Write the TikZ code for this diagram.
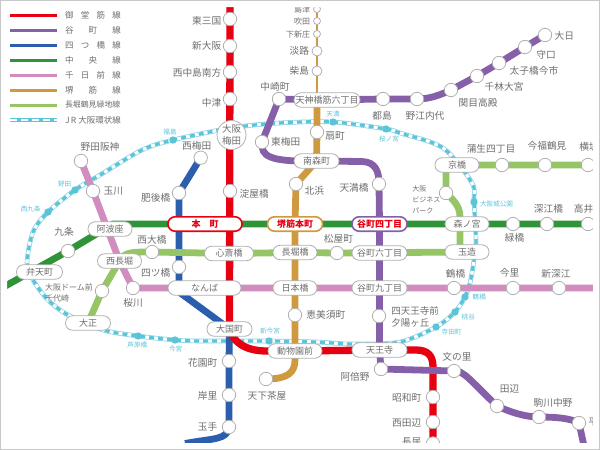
\documentclass[tikz,border=0pt]{standalone}
\usepackage{fontspec}
\setmainfont{Noto Sans CJK JP}
\definecolor{mido-red}{RGB}{230,0,18}
\definecolor{tani-purple}{RGB}{133,96,168}
\definecolor{yotsu-blue}{RGB}{43,94,172}
\definecolor{chuo-green}{RGB}{47,148,55}
\definecolor{sen-pink}{RGB}{208,141,190}
\definecolor{sakai-tan}{RGB}{207,154,63}
\definecolor{naga-lime}{RGB}{149,197,100}
\definecolor{jr-cyan}{RGB}{92,196,217}
\definecolor{jr-pale}{RGB}{130,210,226}
\definecolor{stn-grey}{RGB}{176,176,176}
\definecolor{text-grey}{RGB}{110,110,110}
\usetikzlibrary{backgrounds}
\usetikzlibrary{positioning}
\tikzset{
  lbl/.style={text=text-grey,font=\fontsize{9.7}{11}\selectfont,inner sep=0pt,outer sep=0pt},
  sublbl/.style={lbl,font=\fontsize{8}{11}\selectfont,align=left},
  jrlbl/.style={lbl,text=jr-cyan,font=\fontsize{6.6}{8}\selectfont},
  leglbl/.style={lbl,font=\fontsize{8.5}{9}\selectfont,anchor=west},
  stn/.style={circle,draw=stn-grey,fill=white,line width=0.8pt,minimum size=13.4pt,inner sep=0pt,outer sep=0pt},
  smallstn/.style={stn,minimum size=7pt},
  midstn/.style={stn,minimum size=10pt},
  jrstn/.style={circle,fill=jr-cyan,minimum size=7.4pt,inner sep=0pt,outer sep=0pt},
  pill/.style={draw=stn-grey,fill=white,line width=0.8pt,rounded corners=7pt,minimum height=14.4pt,inner sep=0pt,outer sep=0pt,text=text-grey,font=\fontsize{9}{11}\selectfont},
  redpill/.style={pill,text=mido-red,font=\fontsize{9}{11}\bfseries\selectfont,line width=1.6pt},
  midosuji/.style={draw=mido-red,line width=7.3pt},
  tanimachi/.style={draw=tani-purple,line width=6.8pt},
  yotsubashi/.style={draw=yotsu-blue,line width=6.8pt},
  chuo/.style={draw=chuo-green,line width=6.8pt},
  sennichimae/.style={draw=sen-pink,line width=6.8pt},
  sakaisuji/.style={draw=sakai-tan,line width=6.8pt},
  sakaithin/.style={draw=sakai-tan,line width=2pt},
  nagahori/.style={draw=naga-lime,line width=6.8pt},
  jrloop/.style={draw=jr-pale,line width=4.6pt,postaction={draw=white,line width=3.2pt},postaction={draw=jr-cyan,line width=3.2pt,dash pattern=on 5pt off 4pt}},
  jrkey/.style={draw=jr-cyan,line width=3.4pt,postaction={draw=white,line width=1.4pt,dash pattern=on 7pt off 4pt}},
}
\begin{document}
\begin{tikzpicture}[x=1pt,y=-1pt]
  \useasboundingbox (0,0) rectangle (600,450);
  % stations
  \foreach \n/\x/\y in {higashimikuni/230/19,shinosaka/230/46,nishinakajima/230/72,nakatsu/230/99,yodoyabashi/230/191,
      nishiumeda/200.7/157.7,higobashi/179/193,yotsubashi/179/267,hanazono/229/361,kishinosato/229/395,tamade/229/427,
      dainichi/545/35,moriguchi/525/47,taishibashi/499/63,senbayashi/477/76,sekime/451/90,noe/417/99,miyakojima/383/99,
      nakazaki/279/99,higashiumeda/262/142,tenmabashi/379/184,shitennoji/379/316,abeno/381/369,
      fuminosato/454/371,tanabe/497/406,komagawa/539/417,hirano/579/423,showacho/433/397,nishitanabe/433/422,nagai/433/443.5,
      ogimachi/317/132,kitahama/296/184,ebisu/295/315,tengachaya/266/379,
      nodahanshin/81/161,tamagawa/93/191,sakuragawa/133/288,tsuruhashi/454/288,imazato/513/288,shinfukae/559/288,
      kujo/68/251,midoribashi/513/224,fukae/547/224,takaida/588/224,
      dome/102/291,nishiohashi/152/252,matsuyamachi/337/253,bizpark/446/193,gamo/502/165,imafuku/545/165,yokozutsumi/588/165}
    \node [stn] (\n) at (\x,\y) {};
  \foreach \n/\x/\y in {shimadzu/317/9,suita/317/21,shinjo/317/34}
    \node [smallstn] (\n) at (\x,\y) {};
  \foreach \n/\x/\y in {awaji/317/51,shibajima/317/71}
    \node [midstn] (\n) at (\x,\y) {};
  \foreach \n/\x/\y in {fukushima/173/140,tenma/333/122,sakuranomiya/386/129,osakajo/474/202,jrtsuruhashi/465/297,
      momodani/455/312,teradacho/436/327,shinimamiya/269/341,imamiya/175/340,ashiharabashi/138/336,nishikujo/48/212,noda/75/190}
    \node [jrstn] (\n) at (\x,\y) {};
  % interchanges
  \foreach \n/\x/\y/\w/\txt in {tenroku/327/100/66/天神橋筋六丁目,minamimori/316.5/161/45/南森町,awaza/110/229/44/阿波座,
      nishinagahori/119.5/261/44/西長堀,bentencho/39.5/272/46/弁天町,taisho/88/323/45/大正,
      shinsaibashi/229/253.5/49/心斎橋,namba/204.5/288/73/なんば,nagahoribashi/295/252.5/44/長堀橋,nipponbashi/295/288/44/日本橋,
      daikokucho/229.5/329/45/大国町,dobutsuen/295/351/54/動物園前,tennoji/379.5/350/55/天王寺,
      tani6/379.5/253/55/谷町六丁目,tani9/379.5/288/55/谷町九丁目,
      kyobashi/457/165/44/京橋,morinomiya/467/224/44/森ノ宮,tamatsukuri/467/252/44/玉造}
    \node [pill,minimum width=\w pt] (\n) at (\x,\y) {\txt};
  \node [redpill,draw=mido-red,minimum width=74pt] (hommachi) at (205,224) {本　町};
  \node [redpill,draw=sakai-tan,minimum width=55pt] (sakaisujihonmachi) at (295,224) {堺筋本町};
  \node [redpill,draw=tani-purple,minimum width=55pt] (tani4) at (379.5,224) {谷町四丁目};
  \node [stn,minimum size=29pt,align=center,text=text-grey,font=\fontsize{9.5}{12.5}\selectfont] (umeda) at (231.5,135) {大阪\\梅田};
  % station names
  \foreach \n/\where/\gx/\gy/\txt in {higashimikuni/left/-2/-2/東三国,shinosaka/left/-2/0/新大阪,nishinakajima/left/-2/-1/西中島南方,nakatsu/left/-2/-4/中津,
      yodoyabashi/right/3/-3/淀屋橋,nishiumeda/above/-4/1/西梅田,higobashi/left/-2/-5/肥後橋,yotsubashi/left/-2/-6/四ツ橋,
      hanazono/left/-5/-2/花園町,kishinosato/left/-5/-1/岸里,tamade/left/-5/0/玉手,
      dainichi/right/3/-1/大日,moriguchi/right/4.7/-8/守口,taishibashi/right/4/-8/太子橋今市,senbayashi/right/1/-11/千林大宮,
      sekime/right/1/-13/関目高殿,noe/below/8/-5.5/野江内代,miyakojima/below/-1/-5.5/都島,nakazaki/above/-4/1/中崎町,
      higashiumeda/right/2.4/0/東梅田,tenmabashi/left/-3.7/-3.7/天満橋,abeno/left/-4.7/-7.7/阿倍野,
      showacho/left/-5/-1/昭和町,nishitanabe/left/-5/-1/西田辺,nagai/left/-5/1/長居,
      fuminosato/above/3/3/文の里,tanabe/above/12.5/5.7/田辺,komagawa/above/14/3/駒川中野,hirano/right/2.7/1/平野,
      ogimachi/right/1.7/-4/扇町,kitahama/right/2/-6.7/北浜,ebisu/right/4.7/0/恵美須町,tengachaya/below/1/-5.7/天下茶屋,
      nodahanshin/above/19/3/野田阪神,tamagawa/right/4/0/玉川,sakuragawa/below/0/-4/桜川,
      tsuruhashi/above/1.5/2.7/鶴橋,imazato/above/-3.5/4.4/今里,shinfukae/above/-3/2.7/新深江,
      kujo/above/-4/8/九条,midoribashi/below/1.5/-3/緑橋,fukae/above/1.5/3.7/深江橋,takaida/above/0.5/4.4/高井田,
      nishiohashi/above/0/1.4/西大橋,matsuyamachi/above/1.5/2.7/松屋町,gamo/above/-11/5.4/蒲生四丁目,imafuku/above/2/7.7/今福鶴見,yokozutsumi/above/1/7/横堤,
      awaji/left/-3/0/淡路,shibajima/left/-3/0/柴島}
    \node [lbl,\where=0pt of \n,xshift=\gx pt,yshift=\gy pt] (\n lbl) {\txt};
  \foreach \n/\txt in {shimadzu/島津,suita/吹田,shinjo/下新庄}
    \node [lbl,font=\fontsize{8}{10}\selectfont,left=3.5pt of \n] (\n lbl) {\txt};
  \node [lbl,align=left,font=\fontsize{9.5}{12}\selectfont,right=5.7pt of shitennoji,yshift=-1pt] (shitennoji lbl) {四天王寺前\\夕陽ヶ丘};
  \node [sublbl,left=2.4pt of dome,yshift=-2pt] (dome lbl) {大阪ドーム前\\千代崎};
  \node [sublbl,font=\fontsize{7}{11}\selectfont,left=-1pt of bizpark,yshift=-7pt] (bizpark lbl) {大阪\\ビジネス\\パーク};
  \foreach \n/\where/\gx/\gy/\txt in {fukushima/above/-3/1.3/福島,tenma/above/0/1/天満,sakuranomiya/below/3/-3.3/桜ノ宮,osakajo/right/2.3/-2/大阪城公園,
      jrtsuruhashi/right/4/0/鶴橋,momodani/right/3/-4.7/桃谷,teradacho/right/2/-5.3/寺田町,shinimamiya/above/1/2.8/新今宮,
      imamiya/below/0.7/-2.3/今宮,ashiharabashi/below/-0.7/-2.7/芦原橋,nishikujo/left/-3.6/3/西九条,noda/left/0/6/野田}
    \node [jrlbl,\where=0pt of \n,xshift=\gx pt,yshift=\gy pt] (\n lbl) {\txt};
  % free ends and bends
  \foreach \n/\x/\y in {redtop/230/0,bluebend/179/292,blueend/185/443.5,purpleend/584/446,tantop/317/4,tanroku/317/100,kujoend/0/289,
      pinkend/600/288,greenbend/113/224,greenend/600/224,limeend/600/165,limebend/460/252,limekyo/446/165,
      jrumeda/231/128,jra/279/123,jrb/400/133,jrc/443/148,jrd/472/183,jre/476/240,jrf/474/260,jrg/470/283,
      jrh/400/342,jri/352/344,jrj/317/342,jrk/200/341,jrl/103/330,jrm/68/315,jrn/48/300,jro/33/280,jrp/27/263,jrq/33/232,jrr/100/175,jrs/142/150}
    \coordinate (\n) at (\x,\y);
  % lines
  \begin{scope}[on background layer]
    \draw [jrloop] plot [smooth cycle,tension=0.5] coordinates {(jrumeda) (jra) (tenma.center) (sakuranomiya.center) (jrb) (jrc)
      (jrd) (osakajo.center) (jre) (jrf) (jrg) (jrtsuruhashi.center) (momodani.center) (teradacho.center) (jrh) (jri) (jrj)
      (shinimamiya.center) (jrk) (imamiya.center) (ashiharabashi.center) (jrl) (jrm) (jrn) (jro) (jrp) (jrq)
      (nishikujo.center) (noda.center) (jrr) (jrs) (fukushima.center)};
    \draw [yotsubashi] (nishiumeda.center) -- (higobashi.center) -- (yotsubashi.center) -- (bluebend) -- (daikokucho.center) -- (hanazono.center)
      -- (kishinosato.center) -- (tamade.center) .. controls (227,440) and (215,438) .. (blueend);
    \draw [sakaithin] (tantop) -- (tanroku);
    \draw [sakaisuji] (tanroku) -- (ogimachi.center) -- (minamimori.center) -- (kitahama.center) -- (sakaisujihonmachi.center)
      -- (dobutsuen.center) -- (295,360) .. controls (295,373) and (287,379) .. (tengachaya.center);
    \draw [sennichimae] (nodahanshin.center) -- (tamagawa.center) -- (nishinagahori.center) -- (sakuragawa.center) -- (namba.center) -- (tani9.center)
      -- (tsuruhashi.center) -- (imazato.center) -- (shinfukae.center) -- (pinkend);
    \draw [nagahori] (taisho.center) -- (dome.center) -- (nishinagahori.center) .. controls (124,252) and (132,252) .. (nishiohashi.center)
      -- (shinsaibashi.center) -- (nagahoribashi.center) -- (matsuyamachi.center) -- (tamatsukuri.center) -- (limebend)
      -- (460,217) .. controls (460,205) and (452,199) .. (bizpark.center) -- (limekyo) -- (kyobashi.center) -- (gamo.center) -- (imafuku.center) -- (limeend);
    \draw [chuo] (kujoend) -- (kujo.center) -- (greenbend) -- (hommachi.center) -- (sakaisujihonmachi.center) -- (tani4.center) -- (morinomiya.center)
      -- (midoribashi.center) -- (fukae.center) -- (takaida.center) -- (greenend);
    \draw [midosuji] (redtop) -- (higashimikuni.center) -- (daikokucho.center) .. controls (233,342) and (245,351) .. (267,351)
      -- (dobutsuen.center) -- (tennoji.center) -- (416,350) .. controls (428,350) and (433,356) .. (433,367) -- (nagai.center);
    \draw [tanimachi] (dainichi.center) -- (moriguchi.center) -- (taishibashi.center) -- (senbayashi.center) -- (sekime.center)
      .. controls (440,95) and (430,99) .. (noe.center) -- (miyakojima.center) -- (tenroku.center) -- (nakazaki.center) -- (higashiumeda.center)
      .. controls (261,156) and (268,162) .. (minamimori.center) -- (362,161.5) .. controls (376,162) and (379,172) .. (tenmabashi.center)
      -- (tani4.center) -- (tennoji.center) -- (abeno.center) -- (fuminosato.center) .. controls (464,371) and (468,378) .. (tanabe.center)
      .. controls (510,412) and (525,417) .. (komagawa.center) .. controls (555,417) and (570,418) .. (hirano.center) -- (purpleend);
  \end{scope}
  % frame
  \fill [white,even odd rule] (0,0) rectangle (600,450) (7,7) rectangle (593,443);
  \draw [stn-grey!70,line width=1pt] (0.5,0.5) rectangle (599.5,449.5);
  % legend
  \foreach \n/\y/\st/\txt in {lgmido/15/midosuji/御\hfill 堂\hfill 筋\hfill 線,lgtani/30/tanimachi/谷\hfill 町\hfill 線,
      lgyotsu/45/yotsubashi/四\hfill つ\hfill 橋\hfill 線,lgchuo/60/chuo/中\hfill 央\hfill 線,lgsen/75/sennichimae/千\hfill 日\hfill 前\hfill 線,
      lgsakai/90/sakaisuji/堺\hfill 筋\hfill 線,lgnaga/105/nagahori/\fontsize{7.9}{9}\selectfont 長堀鶴見緑地線}{
    \coordinate (\n a) at (10,\y);
    \coordinate (\n b) at (57,\y);
    \node [leglbl] (\n) at (65,\y) {\makebox[56pt][s]{\txt}};
    \draw [\st,line width=3pt] (\n a) -- (\n b);
  }
  \coordinate (lgjr a) at (10,120);
  \coordinate (lgjr b) at (57,120);
  \node [leglbl] (lgjr) at (65,120) {\makebox[56pt][s]{J\,R\hfill 大阪環状線}};
  \draw [jrkey] (lgjr a) -- (lgjr b);
\end{tikzpicture}
\end{document}
